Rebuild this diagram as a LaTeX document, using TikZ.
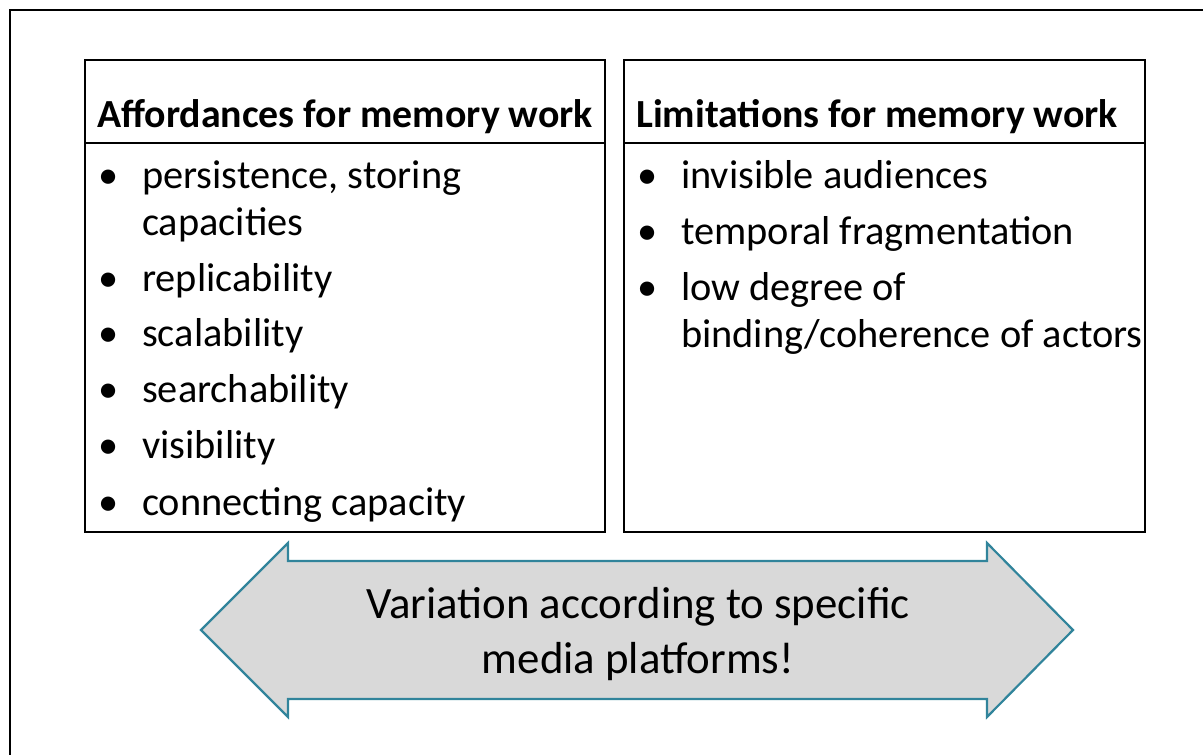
\documentclass[tikz,border=0pt]{standalone}
\usepackage{fontspec}
\setmainfont{Carlito}
\definecolor{arrowline}{HTML}{31849B}
\definecolor{arrowfill}{HTML}{D9D9D9}
\begin{document}
\begin{tikzpicture}[x=1bp,y=-1bp,
  panel/.style={draw=black,line width=2.8bp,inner sep=0pt},
  head/.style={anchor=mid west,font=\fontsize{40}{48}\selectfont\bfseries,inner sep=0pt},
  item/.style={anchor=mid west,font=\fontsize{40.5}{48}\selectfont,inner sep=0pt},
  dot/.style={anchor=mid west,font=\fontsize{40.5}{48}\selectfont,inner sep=0pt}]
\useasboundingbox (0,0) rectangle (1203,755);
% outer frame (only top and left edges fall inside the page)
\draw[line width=2.2bp] (1210,10) -- (10,10) -- (10,765);
% left panel
\node[panel,minimum width=520bp,minimum height=472bp] (lp) at (345,296) {};
\draw[line width=2.8bp] (85,143) coordinate (lpa) -- (605,143) coordinate (lpb);
\node[head] (lh) at (97,125) {Affordances for memory work};
\foreach \t/\y/\b in {persistence{,} storing/186/1, capacities/233/0, replicability/289/1,
  scalability/344/1, searchability/400/1, visibility/456/1, connecting capacity/513/1}{
  \node[item] at (142,\y) {\t};
  \ifnum\b=1 \node[dot] at (98,\y) {•};\fi
}
% right panel
\node[panel,minimum width=521bp,minimum height=472bp] (rp) at (884.5,296) {};
\draw[line width=2.8bp] (624,143) coordinate (rpa) -- (1145,143) coordinate (rpb);
\node[head] (rh) at (636,125) {Limitations for memory work};
\foreach \t/\y/\b in {invisible audiences/186/1, temporal fragmentation/242/1,
  low degree of/298/1, {binding/coherence of actors}/345/0}{
  \node[item] at (681,\y) {\t};
  \ifnum\b=1 \node[dot] at (637,\y) {•};\fi
}
% double arrow
\coordinate (lt) at (201,630);
\coordinate (rt) at (1073,630);
\draw[draw=arrowline,fill=arrowfill,line width=2.2bp,line join=miter]
  (lt) -- (288,543) -- (288,561) -- (987,561) -- (987,543) -- (rt)
  -- (987,717) -- (987,699) -- (288,699) -- (288,717) -- cycle;
\node[font=\fontsize{45}{55}\selectfont,align=center,inner sep=0pt] (var) at (638,634)
  {Variation according to specific\\media platforms!};
\end{tikzpicture}
\end{document}
